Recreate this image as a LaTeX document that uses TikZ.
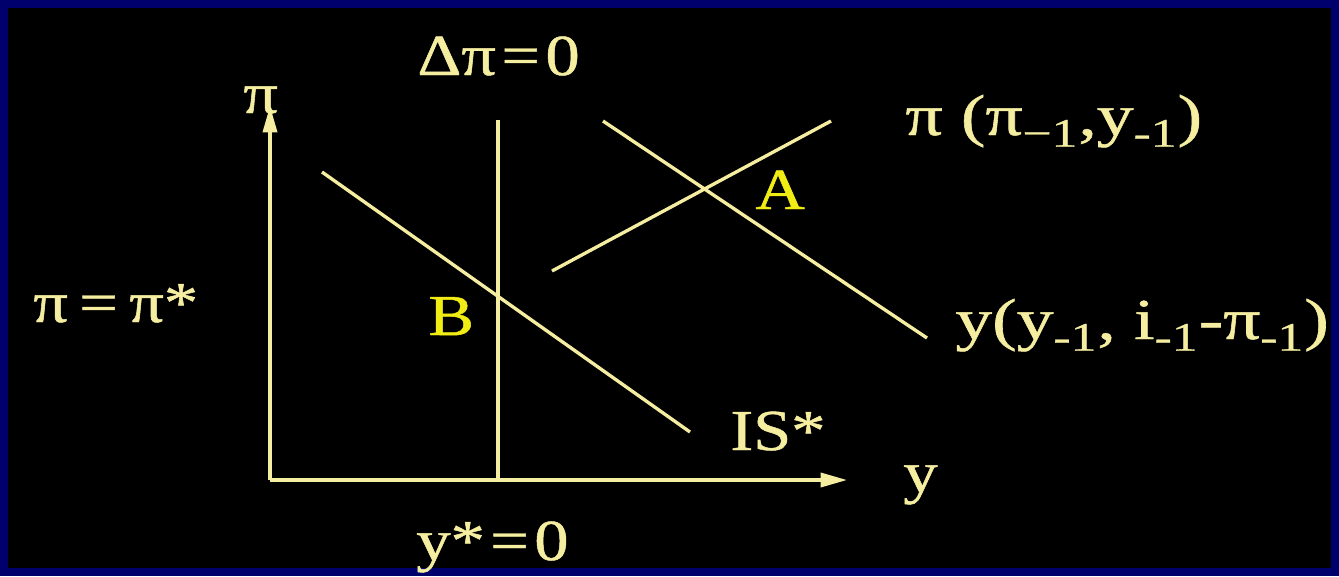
\documentclass[tikz,border=0pt]{standalone}
\usepackage{fontspec}
\setmainfont{Liberation Serif}
\newfontfamily\plotfont{Liberation Serif}[FakeBold=0.8]
\usepackage{xcolor}
\usetikzlibrary{arrows.meta}

\definecolor{navyframe}{RGB}{0,0,108}
\definecolor{curveyel}{RGB}{245,238,160}
\definecolor{pointyel}{RGB}{240,236,20}

\begin{document}
\begin{tikzpicture}[
  x=0.02cm, y=-0.02cm,
  curve/.style={draw=curveyel, line width=1.9pt},
  axis/.style={curve, -{Triangle[length=15pt,width=8pt]}},
  lbl/.style={anchor=base west, inner sep=0pt, text=curveyel, xscale=1.18, transform shape,
    font=\plotfont\fontsize{33}{38}\selectfont},
  widelbl/.style={lbl, xscale=1.075},
  pt/.style={lbl, text=pointyel}
]

\fill[navyframe] (0,0) rectangle (1339,576);
\fill[black] (8,8) rectangle (1331,568);
\useasboundingbox (0,0) rectangle (1339,576);

\coordinate (o) at (270,480);
\coordinate (ytop) at (270,106);
\coordinate (xend) at (847,480);
\coordinate (vtop) at (498,120);
\coordinate (vbot) at (498,480);
\coordinate (is1) at (322,172);
\coordinate (is2) at (690,432);
\coordinate (yy1) at (603,121);
\coordinate (yy2) at (927,338);
\coordinate (pc1) at (552,271);
\coordinate (pc2) at (831,121);

\draw[curve] (vbot) -- (vtop);
\draw[curve] (is1) -- (is2);
\draw[curve] (yy1) -- (yy2);
\draw[curve] (pc1) -- (pc2);
\draw[axis] (o) -- (ytop);
\draw[axis] (o) -- (xend);

\node[lbl] (pilab) at (243,113) {π};
\node[lbl] (dpi) at (417,75) {Δπ\hspace{0.08em}=\hspace{0.08em}0};
\node[widelbl] (pcurve) at (905,135) {π (π\textsubscript{−1},y\textsubscript{-1})};
\node[widelbl] (ycurve) at (955,339) {y(y\textsubscript{-1}, i\textsubscript{-1}-π\textsubscript{-1})};
\node[lbl] (pistar) at (33,322) {π\,=\,π*};
\node[lbl] (islab) at (730,450) {IS*};
\node[lbl] (ylab) at (903,492) {y};
\node[lbl] (ystar) at (416,560) {y*\hspace{0.08em}=\hspace{0.08em}0};
\node[pt] (ptA) at (755,209) {A};
\node[pt] (ptB) at (428,335) {B};

\end{tikzpicture}
\end{document}
